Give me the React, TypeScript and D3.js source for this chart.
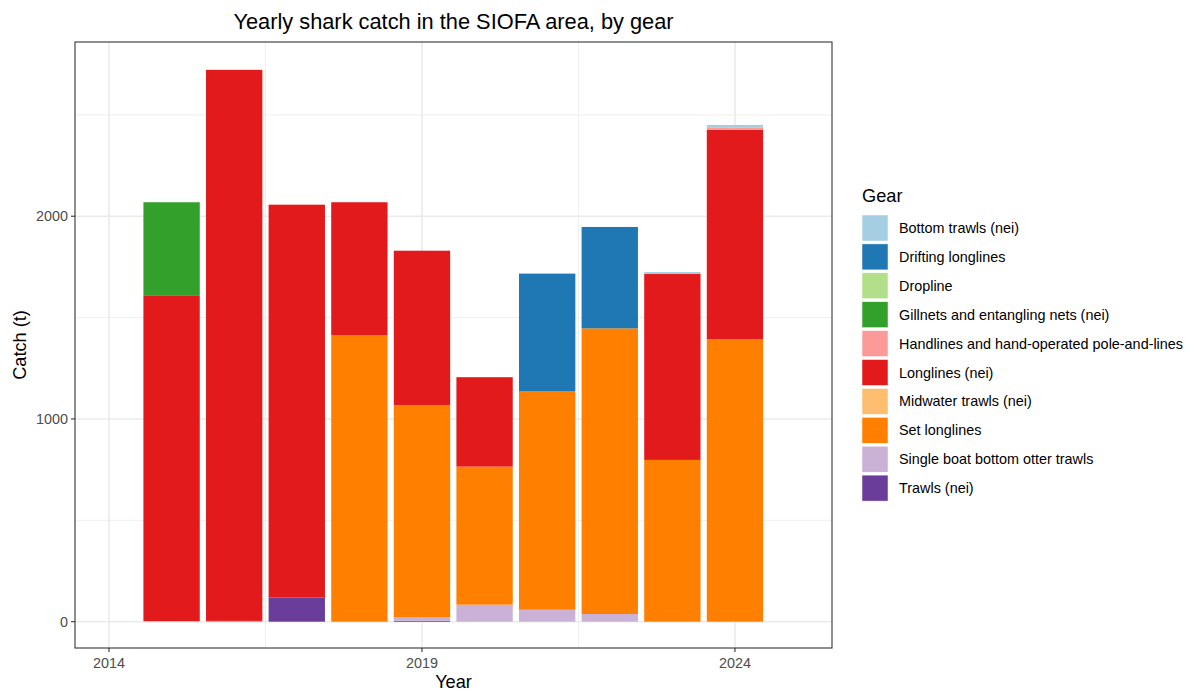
import React from "react";
import * as d3 from "d3";

const years = [2015, 2016, 2017, 2018, 2019, 2020, 2021, 2022, 2023, 2024];
const gears = [
  "Bottom trawls (nei)",
  "Drifting longlines",
  "Dropline",
  "Gillnets and entangling nets (nei)",
  "Handlines and hand-operated pole-and-lines",
  "Longlines (nei)",
  "Midwater trawls (nei)",
  "Set longlines",
  "Single boat bottom otter trawls",
  "Trawls (nei)",
];
const gearColors = ["#A6CEE3", "#1F78B4", "#B2DF8A", "#33A02C", "#FB9A99", "#E31A1C", "#FDBF6F", "#FF7F00", "#CAB2D6", "#6A3D9A"];

const bottomTrawls = [0, 0, 0, 0, 0, 0, 0, 0, 6, 14];
const driftingLonglines = [0, 0, 0, 0, 0, 0, 579, 500, 0, 0];
const dropline = [0, 0, 0, 0, 0, 0, 0, 0, 0, 0];
const gillnets = [462, 0, 0, 0, 0, 0, 0, 0, 0, 0];
const handlines = [0, 0, 0, 0, 0, 0, 0, 0, 4, 10];
const longlines = [1604, 2718, 1937, 655, 761, 441, 0, 0, 917, 1033];
const midwaterTrawls = [3, 0, 0, 0, 0, 0, 0, 0, 0, 0];
const setLonglines = [0, 4, 0, 1414, 1047, 681, 1079, 1409, 798, 1393];
const singleBoatTrawls = [0, 0, 0, 0, 17, 84, 59, 38, 0, 0];
const trawlsNei = [0, 0, 120, 0, 5, 0, 0, 0, 0, 0];

const seriesValues = [bottomTrawls, driftingLonglines, dropline, gillnets, handlines, longlines, midwaterTrawls, setLonglines, singleBoatTrawls, trawlsNei];

const xTicks = [2014, 2019, 2024];
const xMinor = [2016.5, 2021.5];
const yTicks = [0, 1000, 2000];
const yMinor = [500, 1500, 2500];

const FONT = "'Liberation Sans', Arial, Helvetica, sans-serif";

export default function App() {
  const W = 1197, H = 693;
  const pl = 75, pr = 832, pt = 42, pb = 648;
  const x = d3.scaleLinear().domain([2013.457, 2025.55]).range([pl, pr]);
  const y = d3.scaleLinear().domain([-129.7, 2859.4]).range([pb, pt]);
  const barW = x(2015.45) - x(2014.55);

  const rows = years.map((yr, i) => {
    const r: any = { year: yr };
    gears.forEach((g, gi) => (r[g] = seriesValues[gi][i]));
    return r;
  });
  const keys = gears.slice().reverse();
  const stacked = d3.stack<any>().keys(keys)(rows);

  const legendX = 862, legendTop = 215, keySize = 26, pitch = 28.9;

  return (
    <svg width={W} height={H} style={{ position: "absolute", left: 0, top: 0, background: "#fff" }} fontFamily={FONT}>
      <rect x={0} y={0} width={W} height={H} fill="#fff" />
      {/* grid */}
      {yMinor.map((v) => (
        <line key={"ym" + v} x1={pl} x2={pr} y1={y(v)} y2={y(v)} stroke="#EBEBEB" strokeWidth={0.8} />
      ))}
      {xMinor.map((v) => (
        <line key={"xm" + v} x1={x(v)} x2={x(v)} y1={pt} y2={pb} stroke="#EBEBEB" strokeWidth={0.8} />
      ))}
      {yTicks.map((v) => (
        <line key={"yg" + v} x1={pl} x2={pr} y1={y(v)} y2={y(v)} stroke="#EBEBEB" strokeWidth={1.6} />
      ))}
      {xTicks.map((v) => (
        <line key={"xg" + v} x1={x(v)} x2={x(v)} y1={pt} y2={pb} stroke="#EBEBEB" strokeWidth={1.6} />
      ))}
      {/* bars */}
      {stacked.map((s) => {
        const gi = gears.indexOf(s.key);
        return (
          <g key={s.key} fill={gearColors[gi]}>
            {s.map((d, i) =>
              d[1] - d[0] > 0 ? (
                <rect key={i} x={x(years[i]) - barW / 2} width={barW} y={y(d[1])} height={y(d[0]) - y(d[1])} />
              ) : null
            )}
          </g>
        );
      })}
      {/* border */}
      <rect x={pl} y={pt} width={pr - pl} height={pb - pt} fill="none" stroke="#333333" strokeWidth={1.1} />
      {/* y axis */}
      {yTicks.map((v) => (
        <g key={"yt" + v}>
          <line x1={pl - 4} x2={pl} y1={y(v)} y2={y(v)} stroke="#333333" strokeWidth={1.1} />
          <text x={pl - 7} y={y(v)} dy="0.35em" textAnchor="end" fontSize={14.4} fill="#4D4D4D">
            {v}
          </text>
        </g>
      ))}
      {xTicks.map((v) => (
        <g key={"xt" + v}>
          <line x1={x(v)} x2={x(v)} y1={pb} y2={pb + 4} stroke="#333333" strokeWidth={1.1} />
          <text x={x(v)} y={668} textAnchor="middle" fontSize={14.4} fill="#4D4D4D">
            {v}
          </text>
        </g>
      ))}
      <text x={(pl + pr) / 2} y={688} textAnchor="middle" fontSize={18.2} fill="#000">
        Year
      </text>
      <text transform={`translate(26,${(pt + pb) / 2}) rotate(-90)`} textAnchor="middle" fontSize={18.2} fill="#000">
        Catch (t)
      </text>
      <text x={(pl + pr) / 2} y={29} textAnchor="middle" fontSize={21.8} fill="#000">
        Yearly shark catch in the SIOFA area, by gear
      </text>
      {/* legend */}
      <text x={legendX} y={202} fontSize={18.2} fill="#000">
        Gear
      </text>
      {gears.map((g, i) => (
        <g key={"lg" + i} transform={`translate(${legendX},${legendTop + i * pitch})`}>
          <rect x={0} y={0} width={keySize} height={keySize} fill={gearColors[i]} stroke="#fff" strokeWidth={0.5} />
          <text x={37} y={keySize / 2} dy="0.35em" fontSize={14.4} fill="#000">
            {g}
          </text>
        </g>
      ))}
    </svg>
  );
}
